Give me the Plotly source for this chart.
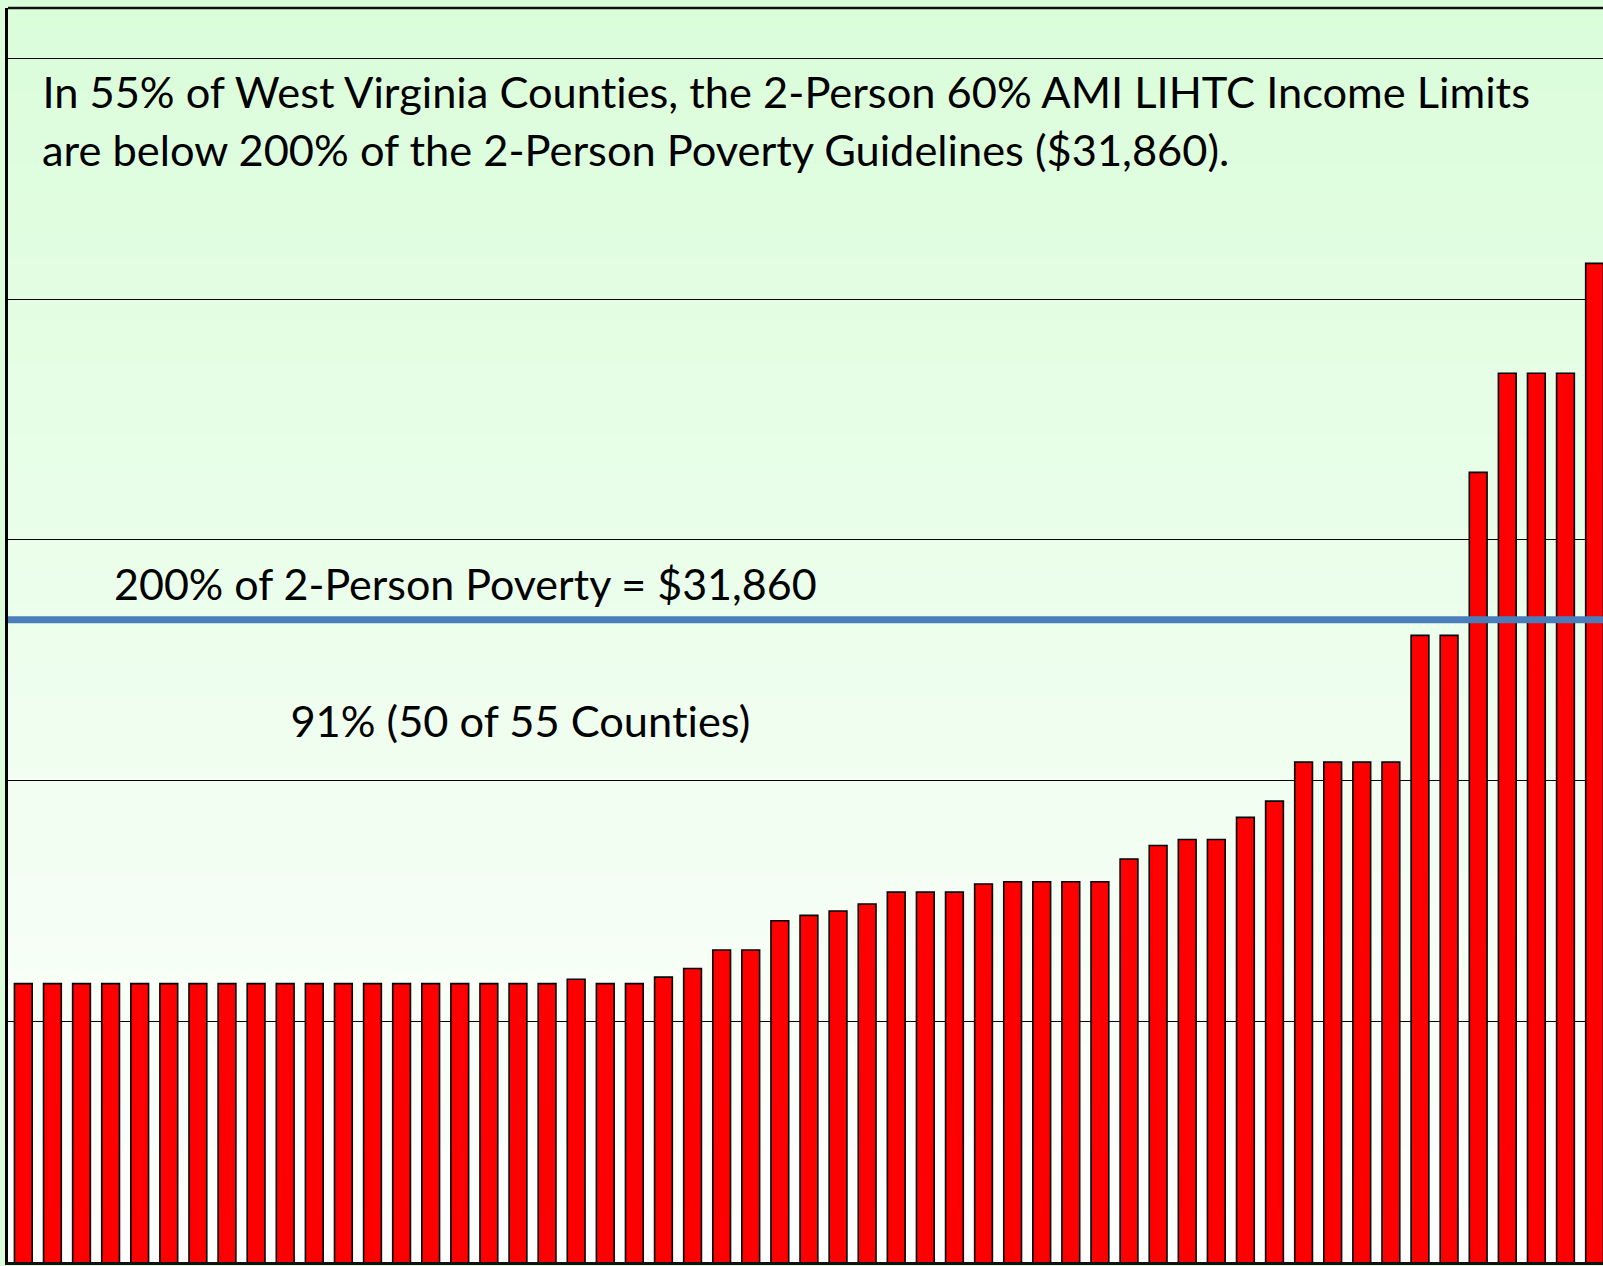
import plotly.graph_objects as go

# ---- data ----
county_rank = list(range(1, 56))
income_limit_60ami_2p = [
    25140, 25140, 25140, 25140, 25140, 25140, 25140, 25140, 25140, 25140,
    25140, 25140, 25140, 25140, 25140, 25140, 25140, 25140, 25140, 25220,
    25140, 25140, 25260, 25420, 25760, 25760, 26300, 26400, 26480, 26610,
    26830, 26830, 26830, 26980, 27020, 27020, 27020, 27020, 27440, 27690,
    27800, 27800, 28210, 28510, 29230, 29230, 29230, 29230, 31570, 31570,
    34580, 36410, 36410, 36410, 38440,
]
poverty_200pct_2p = 31860

title_line1 = "In 55% of West Virginia Counties, the 2-Person 60% AMI LIHTC Income Limits"
title_line2 = "are below 200% of the 2-Person Poverty Guidelines ($31,860)."
line_label = "200% of 2-Person Poverty = $31,860"
share_label = "91% (50 of 55 Counties)"

# ---- geometry / style ----
W, H = 1603, 1266
ML, MT, MB, MR = 8, 8, 4, 0
PW, PH = W - ML - MR, H - MT - MB
Y_MIN, DTICK = 20000, 4444.444
Y_MAX = Y_MIN + PH * DTICK / 240.7
X_MIN, X_MAX = 0.474, 55.29
FONT = "Lato"


def px_x(px):
    return (px - ML) / PW


def px_y(py):
    return (H - MB - py) / PH


fig = go.Figure()
fig.add_trace(go.Bar(
    x=county_rank,
    y=income_limit_60ami_2p,
    marker=dict(color="#FF0000", line=dict(color="#000000", width=1.6)),
    hoverinfo="skip",
))

shapes = []
# vertical green-to-white gradient for plot background
N = 120
c_top = (218, 253, 218)
c_bot = (255, 255, 255)
for i in range(N):
    f = (i + 0.5) / N
    col = tuple(round(c_top[k] + (c_bot[k] - c_top[k]) * f) for k in range(3))
    shapes.append(dict(type="rect", xref="paper", yref="paper",
                       x0=0, x1=1, y0=1 - (i + 1) / N, y1=1 - i / N + 0.001,
                       fillcolor="rgb(%d,%d,%d)" % col, line=dict(width=0),
                       layer="below"))
# top border
shapes.append(dict(type="line", xref="paper", yref="paper", x0=0, x1=1, y0=1, y1=1,
                   line=dict(color="#111111", width=2.5), layer="above"))
# 200% poverty line
shapes.append(dict(type="line", xref="paper", yref="y", x0=0, x1=1,
                   y0=poverty_200pct_2p, y1=poverty_200pct_2p,
                   line=dict(color="#4A7EBB", width=7), layer="above"))

annotations = [
    dict(text=title_line1, x=px_x(40), y=px_y(91), size=43.4),
    dict(text=title_line2, x=px_x(40), y=px_y(149), size=43.4),
    dict(text=line_label, x=px_x(112), y=px_y(583), size=43.0),
    dict(text=share_label, x=px_x(288), y=px_y(720), size=43.4),
]
for a in annotations:
    sz = a.pop("size")
    a.update(xref="paper", yref="paper", xanchor="left", yanchor="middle",
             showarrow=False, font=dict(family=FONT, size=sz, color="#000000"))

fig.update_layout(
    width=W, height=H,
    margin=dict(l=ML, r=MR, t=MT, b=MB, pad=0),
    paper_bgcolor="rgb(218,253,218)",
    plot_bgcolor="rgba(0,0,0,0)",
    showlegend=False,
    bargap=0.39,
    shapes=shapes,
    annotations=annotations,
    xaxis=dict(range=[X_MIN, X_MAX], showgrid=False, zeroline=False,
               showticklabels=False, ticks="", showline=True,
               linecolor="#111111", linewidth=2.5, mirror=False, fixedrange=True),
    yaxis=dict(range=[Y_MIN, Y_MAX], tick0=Y_MIN, dtick=DTICK, showgrid=True,
               gridcolor="#000000", gridwidth=1.4, zeroline=False,
               showticklabels=False, ticks="", showline=True,
               linecolor="#000000", linewidth=3, mirror=False, fixedrange=True),
)

fig.write_html(
    "out.html",
    config={"displayModeBar": False},
    post_script=(
        "document.body.style.margin='0';"
        "document.documentElement.style.overflow='hidden';"
        "var s=document.createElement('style');"
        "s.textContent='text{font-variant-ligatures:none;font-feature-settings:\"liga\" 0,\"clig\" 0;}';"
        "document.head.appendChild(s);"
    ),
)
